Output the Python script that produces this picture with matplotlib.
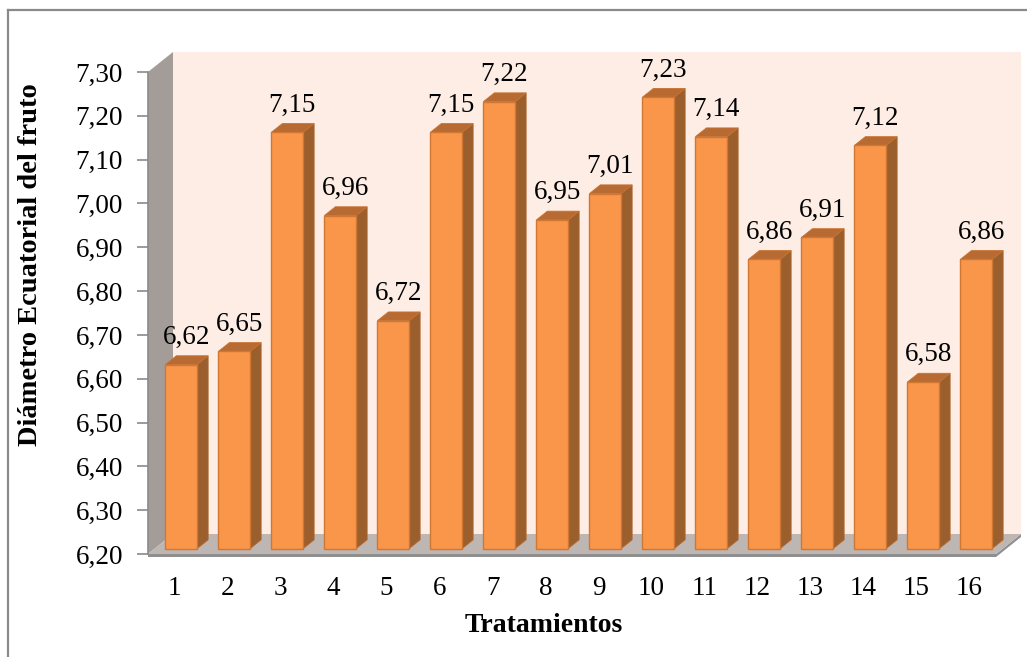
import matplotlib
matplotlib.use("Agg")
import matplotlib.pyplot as plt
from matplotlib.patches import Polygon
from matplotlib.transforms import Affine2D, IdentityTransform
from matplotlib.lines import Line2D

# ---- data ----
categories = [str(i) for i in range(1, 17)]
values = [6.62, 6.65, 7.15, 6.96, 6.72, 7.15, 7.22, 6.95,
          7.01, 7.23, 7.14, 6.86, 6.91, 7.12, 6.58, 6.86]
yticks = [6.20, 6.30, 6.40, 6.50, 6.60, 6.70, 6.80, 6.90, 7.00, 7.10, 7.20, 7.30]
ylabel = "Diámetro Ecuatorial del fruto"
xlabel = "Tratamientos"

W, H = 1027, 657
DPI = 100
plt.rcParams['font.family'] = ['Liberation Serif', 'DejaVu Serif']
fig = plt.figure(figsize=(W / DPI, H / DPI), dpi=DPI)

# axes front plane in pixels
left_px, right_px, top_px, bot_px = 148, 996, 72, 554
ax = fig.add_axes([left_px / W, (H - bot_px) / H, (right_px - left_px) / W, (bot_px - top_px) / H])
ax.set_xlim(0.5, 16.5)
ax.set_ylim(6.2, 7.3)
ax.patch.set_visible(False)
for s in ax.spines.values():
    s.set_visible(False)

DX, DY = 25.0, 20.0  # full depth offset in pixels


def P(x, y, d):
    px, py = ax.transData.transform((x, y))
    return (px + d * DX, py + d * DY)


def add_poly(pts, **kw):
    p = Polygon(pts, closed=True, transform=IdentityTransform(), clip_on=False, **kw)
    ax.add_patch(p)
    return p

x0, x1 = 0.5, 16.5
y0, y1 = 6.2, 7.3

# outer chart border (left + top)
fig.add_artist(Line2D([8, 8], [0, H - 10], transform=IdentityTransform(), color='#8a8a8a', lw=1.6))
fig.add_artist(Line2D([8, W], [H - 10, H - 10], transform=IdentityTransform(), color='#8a8a8a', lw=1.6))

# back wall
add_poly([P(x0, y0, 1), P(x1, y0, 1), P(x1, y1, 1), P(x0, y1, 1)],
         facecolor='#fdede5', edgecolor='none', zorder=0.1)
# left wall
add_poly([P(x0, y0, 0), P(x0, y1, 0), P(x0, y1, 1), P(x0, y0, 1)],
         facecolor='#a39c99', edgecolor='none', zorder=0.2)
# floor slab (thickness)
th = 3
fl = [P(x0, y0, 0), P(x1, y0, 0), P(x1, y0, 1), P(x0, y0, 1)]
add_poly([(fl[0][0], fl[0][1] - th), (fl[1][0], fl[1][1] - th), (fl[2][0], fl[2][1] - th),
          fl[2], fl[1], fl[0]], facecolor='#8f8f8f', edgecolor='none', zorder=0.3)
add_poly(fl, facecolor='#beb6b2', edgecolor='none', zorder=0.4)

# y axis line + ticks
ax.set_yticks(yticks)
ax.set_yticklabels([f"{t:.2f}".replace('.', ',') for t in yticks])
ax.tick_params(axis='y', length=8, width=1.2, color='#8a8a8a', pad=10, labelsize=19.5)
ax.spines['left'].set_visible(True)
ax.spines['left'].set_color('#8a8a8a')
ax.spines['left'].set_linewidth(1.2)
ax.spines['left'].set_zorder(0.5)

ax.set_xticks(range(1, 17))
ax.set_xticklabels(categories)
ax.tick_params(axis='x', length=0, pad=16, labelsize=19.5)

# bars
w = 0.6
d0, d1 = 0.27, 0.71
front_tr = ax.transData + Affine2D().translate(d0 * DX, d0 * DY)
xs = list(range(1, 17))
ax.bar(xs, [v - y0 for v in values], bottom=y0, width=w, color='#f9964a',
       edgecolor='#cf7733', linewidth=1.0, transform=front_tr, zorder=3, clip_on=False)
for x, v in zip(xs, values):
    xl, xr = x - w / 2, x + w / 2
    add_poly([P(xr, y0, d0), P(xr, v, d0), P(xr, v, d1), P(xr, y0, d1)],
             facecolor='#9b5e2d', edgecolor='#b56a30', lw=0.6, zorder=2.5)
    add_poly([P(xl, v, d0), P(xr, v, d0), P(xr, v, d1), P(xl, v, d1)],
             facecolor='#b76b33', edgecolor='#c8712f', lw=0.6, zorder=2.6)
    lx, ly = P(x, v, d0)
    ax.text(lx + 5, ly + (d1 - d0) * DY + 6, f"{v:.2f}".replace('.', ','),
            transform=IdentityTransform(), ha='center', va='bottom', fontsize=19.5,
            zorder=4, clip_on=False)

fig.text(31 / W, 1 - 265 / H, ylabel, rotation=90, ha='center', va='center',
         fontsize=20.5, fontweight='bold')
fig.text(544 / W, 1 - 625 / H, xlabel, ha='center', va='center',
         fontsize=20, fontweight='bold')

fig.savefig('out.png', dpi=DPI)
